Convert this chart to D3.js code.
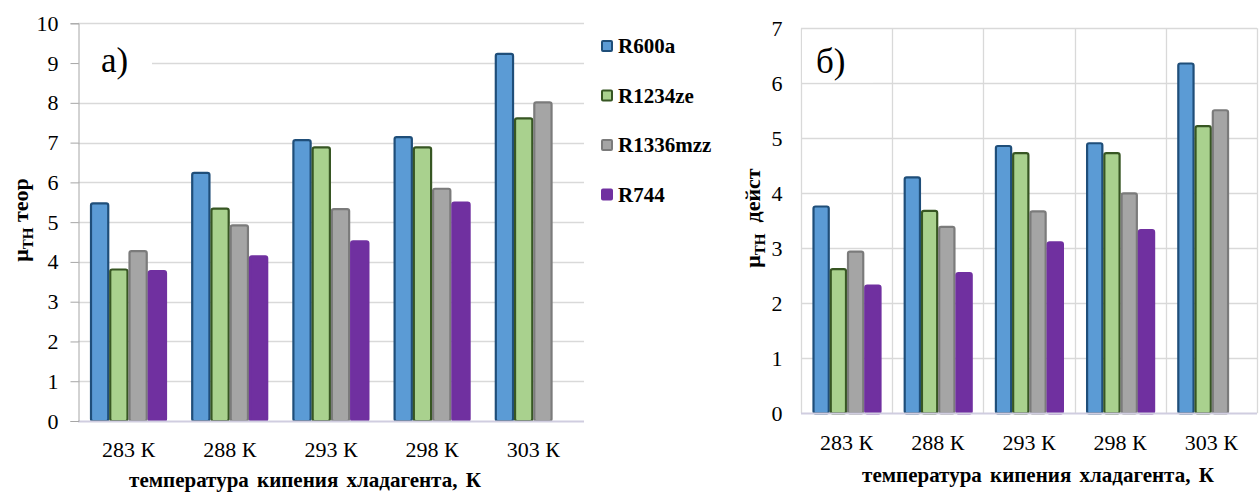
<!DOCTYPE html>
<html>
<head>
<meta charset="utf-8">
<title>μТН</title>
<style>
body {margin: 0; background: #fff;}
svg text {font-family: "Liberation Serif", "Times New Roman", Times, serif !important; fill: #000;}
.grid line {stroke: #d9d9d9; stroke-width: 1.3;}
</style>
</head>
<body>
<svg width="1259" height="492" font-family="Liberation Serif"></svg>
<script src="https://d3js.org/d3.v7.min.js"></script>
<script>
var categories = ["283 К", "288 К", "293 К", "298 К", "303 К"];
var seriesNames = ["R600a", "R1234ze", "R1336mzz", "R744"];
// а) теоретический
var teorR600a = [5.47, 6.24, 7.06, 7.14, 9.23];
var teorR1234ze = [3.81, 5.34, 6.88, 6.88, 7.61];
var teorR1336mzz = [4.27, 4.92, 5.33, 5.84, 8.01];
var teorR744 = [3.77, 4.14, 4.52, 5.49, null];
// б) действительный
var deistR600a = [3.76, 4.29, 4.86, 4.91, 6.36];
var deistR1234ze = [2.62, 3.68, 4.73, 4.73, 5.22];
var deistR1336mzz = [2.94, 3.39, 3.67, 4.00, 5.51];
var deistR744 = [2.32, 2.55, 3.11, 3.33, null];
var ticksA = [0, 1, 2, 3, 4, 5, 6, 7, 8, 9, 10];
var ticksB = [0, 1, 2, 3, 4, 5, 6, 7];

var fills = ["#5b9bd5", "#a9d18e", "#a5a5a5", "#7030a0"];
var strokes = ["#1f4e79", "#375623", "#7b7b7b", "#7030a0"];

var svg = d3.select("svg");
svg.append("rect").attr("width", 1259).attr("height", 492).attr("fill", "#fff");

function drawChart(opt) {
    var g = svg.append("g");
    var x0 = d3.scaleBand().domain(categories).range([opt.left, opt.right]);
    var x1 = d3.scaleBand().domain(seriesNames).range(opt.inner);
    var y = d3.scaleLinear().domain([0, opt.max]).range([opt.bottom, opt.top]);

    // horizontal grid
    g.append("g").attr("class", "grid")
        .selectAll("line").data(opt.ticks.slice(1)).enter().append("line")
        .attr("x1", opt.left).attr("x2", opt.right)
        .attr("y1", function(d) { return Math.round(y(d)) + 0.5; })
        .attr("y2", function(d) { return Math.round(y(d)) + 0.5; });

    if (opt.vgrid) {
        var xs = categories.map(function(c) { return x0(c); }).concat([opt.right]);
        g.append("g").attr("class", "grid")
            .selectAll("line").data(xs).enter().append("line")
            .attr("x1", function(d) { return Math.round(d) + 0.5; })
            .attr("x2", function(d) { return Math.round(d) + 0.5; })
            .attr("y1", opt.top).attr("y2", opt.bottom);
    }

    // label box ("а)" / "б)")
    g.append("rect").attr("x", opt.boxX).attr("y", opt.top + 2)
        .attr("width", opt.boxW).attr("height", opt.boxH).attr("fill", "#fff");
    g.append("text").attr("x", opt.boxX + opt.labelDx).attr("y", opt.labelY)
        .style("font-size", "35px").text(opt.label);

    // bars
    var rows = categories.map(function(c, i) {
        return {cat: c, vals: opt.data.map(function(s, k) { return {key: seriesNames[k], k: k, v: s[i]}; })};
    });
    g.append("g").selectAll("g").data(rows).enter().append("g")
        .attr("transform", function(d) { return "translate(" + x0(d.cat) + ",0)"; })
        .selectAll("rect").data(function(d) { return d.vals.filter(function(e) { return e.v != null; }); })
        .enter().append("rect")
        .attr("x", function(d) { return x1(d.key) + 1; })
        .attr("y", function(d) { return y(d.v); })
        .attr("width", x1.bandwidth() - 2)
        .attr("height", function(d) { return y(0) - y(d.v); })
        .attr("rx", 2)
        .attr("fill", function(d) { return fills[d.k]; })
        .attr("stroke", function(d) { return strokes[d.k]; })
        .attr("stroke-width", 2.2);

    // baseline
    g.append("line").attr("x1", opt.left).attr("x2", opt.right)
        .attr("y1", Math.round(y(0)) + 0.5).attr("y2", Math.round(y(0)) + 0.5)
        .attr("stroke", "#d0cde0").attr("stroke-width", 2);

    // y axis
    var yAxis = d3.axisLeft(y).tickValues(opt.ticks).tickFormat(d3.format("d"))
        .tickSize(opt.tickSize).tickPadding(opt.tickPad);
    var ya = g.append("g").attr("transform", "translate(" + (opt.left + 0.5) + ",0)").call(yAxis)
        .attr("font-family", "Liberation Serif").attr("font-size", 22);
    ya.select(".domain").attr("stroke", opt.axisLine ? "#a6a6a6" : "none");
    ya.selectAll(".tick line").attr("stroke", "#a6a6a6");
    ya.selectAll(".tick text").attr("fill", "#000");

    // x labels
    g.selectAll(".cat").data(categories).enter().append("text")
        .attr("x", function(d) { return x0(d) + x0.bandwidth() / 2; })
        .attr("y", opt.catY).attr("text-anchor", "middle")
        .style("font-size", "22px").text(function(d) { return d; });

    // x title
    g.append("text").attr("x", opt.titleX).attr("y", opt.titleY).attr("text-anchor", "middle")
        .style("font-size", "21px").style("font-weight", "bold").style("word-spacing", "3px")
        .text("температура кипения хладагента, К");

    // y title
    var yt = g.append("text").attr("transform", "translate(" + opt.yTitleX + "," + opt.yTitleY + ") rotate(-90)")
        .attr("text-anchor", "middle").style("font-size", "22px").style("font-weight", "bold")
        .style("white-space", "pre");
    yt.append("tspan").text("μ");
    yt.append("tspan").attr("dy", 5).style("font-size", "15px").text("ТН");
    yt.append("tspan").attr("dy", -5).text(opt.yWord);
}

drawChart({
    data: [teorR600a, teorR1234ze, teorR1336mzz, teorR744],
    ticks: ticksA, max: 10,
    left: 78, right: 584, top: 23.3, bottom: 421,
    inner: [12, 89], vgrid: false, axisLine: true, tickSize: 8, tickPad: 12,
    boxX: 79, boxW: 73, boxH: 44, labelDx: 22, labelY: 72, label: "а)",
    catY: 457, titleX: 305, titleY: 487,
    yTitleX: 28, yTitleY: 220, yWord: " теор"
});

drawChart({
    data: [deistR600a, deistR1234ze, deistR1336mzz, deistR744],
    ticks: ticksB, max: 7,
    left: 801, right: 1257, top: 28.3, bottom: 413.3,
    inner: [11.5, 80.5], vgrid: true, axisLine: false, tickSize: 0, tickPad: 19,
    boxX: 802, boxW: 71, boxH: 52, labelDx: 14, labelY: 73, label: "б)",
    catY: 450, titleX: 1038, titleY: 482,
    yTitleX: 760, yTitleY: 218, yWord: "  дейст"
});

// legend
var legend = svg.append("g").selectAll("g").data(seriesNames).enter().append("g")
    .attr("transform", function(d, i) { return "translate(602," + (41 + i * 49.5) + ")"; });
legend.append("rect").attr("width", 10).attr("height", 10).attr("rx", 1)
    .attr("fill", function(d, i) { return fills[i]; })
    .attr("stroke", function(d, i) { return strokes[i]; }).attr("stroke-width", 2);
legend.append("text").attr("x", 16).attr("y", 12)
    .style("font-size", "21px").style("font-weight", "bold").text(function(d) { return d; });
</script>
</body>
</html>
